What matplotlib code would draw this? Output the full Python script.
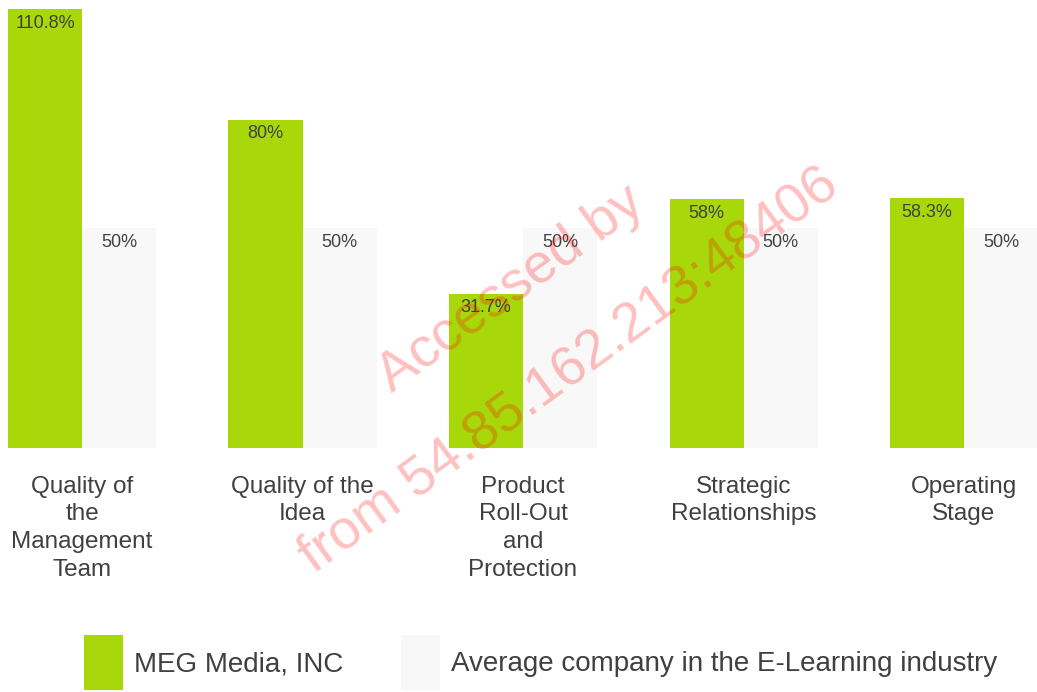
import numpy as np
import matplotlib
matplotlib.use("Agg")
import matplotlib.pyplot as plt
from matplotlib.patches import Patch

plt.rcParams['font.family'] = ['Liberation Sans', 'DejaVu Sans']

# data
categories = ["Quality of\nthe\nManagement\nTeam", "Quality of the\nIdea",
              "Product\nRoll-Out\nand\nProtection", "Strategic\nRelationships",
              "Operating\nStage"]
company = [110.8, 80, 31.7, 58, 58.3]
company_labels = ["110.8%", "80%", "31.7%", "58%", "58.3%"]
average = [50, 50, 50, 50, 50]
average_labels = ["50%", "50%", "50%", "50%", "50%"]
series_names = ["MEG Media, INC", "Average company in the E-Learning industry"]

green = "#a8d80a"
grey = "#f8f8f8"
txt = "#404040"

fig = plt.figure(figsize=(10.37, 6.92), dpi=100)
ax = fig.add_axes([0, (692 - 448) / 692, 1, 448 / 692])

ymin, ymax = -11.1, 113.3
x = np.arange(len(categories))
w = 74 / 220.5

# bars start at the bottom of the axis
ax.bar(x - w / 2, np.array(company) - ymin, w, bottom=ymin, color=green)
ax.bar(x + w / 2, np.array(average) - ymin, w, bottom=ymin, color=grey)

for i in range(len(x)):
    ax.annotate(company_labels[i], (x[i] - w / 2, company[i]), xytext=(0, -4),
                textcoords="offset points", ha="center", va="top",
                fontsize=13, color=txt)
    ax.annotate(average_labels[i], (x[i] + w / 2, average[i]), xytext=(0, -4),
                textcoords="offset points", ha="center", va="top",
                fontsize=13, color=txt)

ax.set_xlim(-82 / 220.5, 4 + 73 / 220.5)
ax.set_ylim(ymin, ymax)
ax.set_xticks(x)
ax.set_xticklabels(categories, fontsize=17.5, color=txt, linespacing=1.33)
ax.tick_params(axis="x", length=0, pad=20)
ax.set_yticks([])
for s in ax.spines.values():
    s.set_visible(False)

#legend below the chart
handles = [Patch(facecolor=green), Patch(facecolor=grey)]
fig.legend(handles, series_names, loc="lower left",
           bbox_to_anchor=(84 / 1037, 2 / 692), ncol=2, frameon=False,
           fontsize=20, handlelength=1.39, handleheight=2.65,
           handletextpad=0.4, columnspacing=2.1, borderpad=0,
           borderaxespad=0, labelcolor=txt)

# watermark
fig.text(540 / 1037, 1 - 330 / 692, "Accessed by\nfrom 54.85.162.213:48406",
         rotation=36, ha="center", va="center", fontsize=40, color="red",
         alpha=0.25, linespacing=2.2, rotation_mode="anchor", zorder=10)

fig.savefig("out.png", dpi=100)
